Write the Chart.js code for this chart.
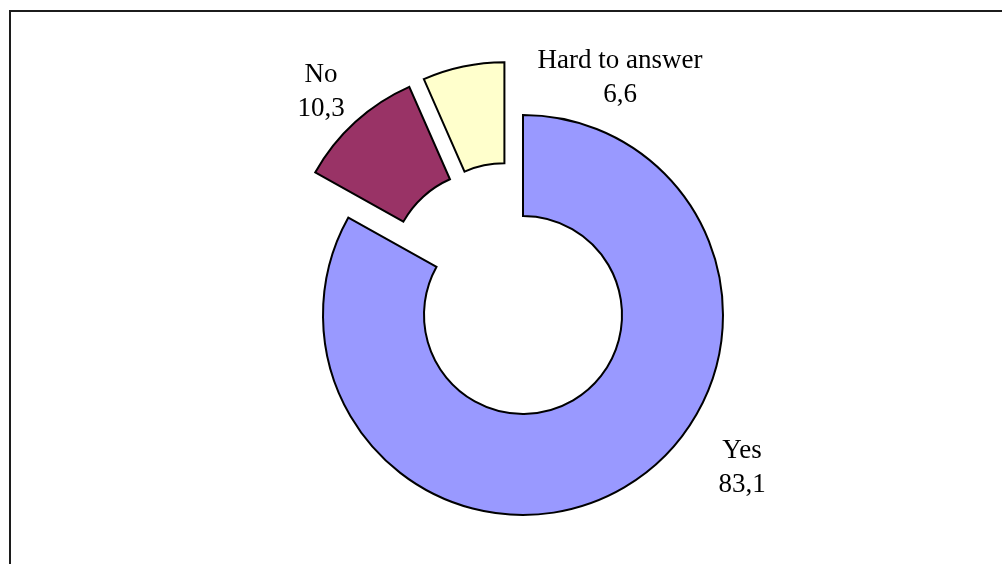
<!DOCTYPE html>
<html>
<head>
<meta charset="utf-8">
<title>Answers</title>
<script src="https://cdn.jsdelivr.net/npm/chart.js@4/dist/chart.umd.min.js"></script>
<style>
    html, body {
        margin: 0;
        padding: 0;
        background: #ffffff;
    }

    .wrap {
        position: relative;
        width: 1002px;
        height: 564px;
        overflow: hidden;
    }

    /* plot frame, open at right and bottom */
    .frame {
        position: absolute;
        left: 9px;
        top: 10px;
        width: 1100px;
        height: 700px;
        border-left: 2px solid #1c1c1c;
        border-top: 2px solid #1c1c1c;
        pointer-events: none;
    }

    canvas {
        position: absolute;
        left: 0;
        top: 0;
    }
</style>
</head>
<body>

<div class="wrap">
    <div class="frame"></div>
    <canvas id="answerChart" width="1002" height="564"></canvas>
</div>

<script>

/* ==========================================
        DATA
========================================== */

const categories = ["Yes", "No", "Hard to answer"];

const shares = [83.1, 10.3, 6.6];

const valueLabels = ["83,1", "10,3", "6,6"];

const sliceColors = ["#9999FF", "#993366", "#FFFFCC"];

/* ==========================================
        EXPLODED SLICES
========================================== */

// pull distance (px) and direction tweak (deg) per slice
const explodeDistance = [0, 56, 56];
const explodeSkew = [0, 6, -7.5];

const explodeSlices = {

    id: "explodeSlices",

    afterDatasetUpdate(chart, args) {

        args.meta.data.forEach((arc, i) => {

            const dist = explodeDistance[i];

            if (!dist || arc._exploded) return;

            const baseDraw = Object.getPrototypeOf(arc).draw;
            const skew = explodeSkew[i] * Math.PI / 180;

            arc.draw = function(c, area) {

                const mid = (this.startAngle + this.endAngle) / 2 + skew;

                c.save();
                c.translate(Math.cos(mid) * dist, Math.sin(mid) * dist);
                baseDraw.call(this, c, area);
                c.restore();

            };

            arc._exploded = true;

        });

    }

};

/* ==========================================
        LABEL PLUGIN
========================================== */

// label block placement relative to the doughnut centre
const labelPlacement = [
    { dx: 219, dy: 143 },
    { dx: -202, dy: -233 },
    { dx: 97, dy: -247 }
];

const sliceLabels = {

    id: "sliceLabels",

    afterDatasetsDraw(chart) {

        const ctx = chart.ctx;
        const meta = chart.getDatasetMeta(0);

        ctx.save();
        ctx.fillStyle = "#000000";
        ctx.font = "27px 'Liberation Serif', 'Times New Roman', serif";
        ctx.textAlign = "center";
        ctx.textBaseline = "alphabetic";

        meta.data.forEach((arc, i) => {

            const pos = labelPlacement[i];
            const x = arc.x + pos.dx;
            const y = arc.y + pos.dy;

            ctx.fillText(categories[i], x, y);
            ctx.fillText(valueLabels[i], x, y + 34);

        });

        ctx.restore();

    }

};

/* ==========================================
        CREATE CHART
========================================== */

const ctx = document.getElementById("answerChart").getContext("2d");

new Chart(ctx, {

    type: "doughnut",

    data: {

        labels: categories,

        datasets: [
            {
                data: shares,
                backgroundColor: sliceColors,
                borderColor: "#000000",
                borderWidth: 2,
                borderJoinStyle: "miter"
            }
        ]

    },

    options: {

        responsive: false,

        animation: false,

        events: [],

        radius: 200,

        cutout: "49.5%",

        layout: {
            padding: {
                left: 44,
                top: 66,
                right: 0,
                bottom: 0
            }
        },

        plugins: {
            legend: { display: false },
            tooltip: { enabled: false }
        }

    },

    plugins: [explodeSlices, sliceLabels]

});

</script>

</body>
</html>
